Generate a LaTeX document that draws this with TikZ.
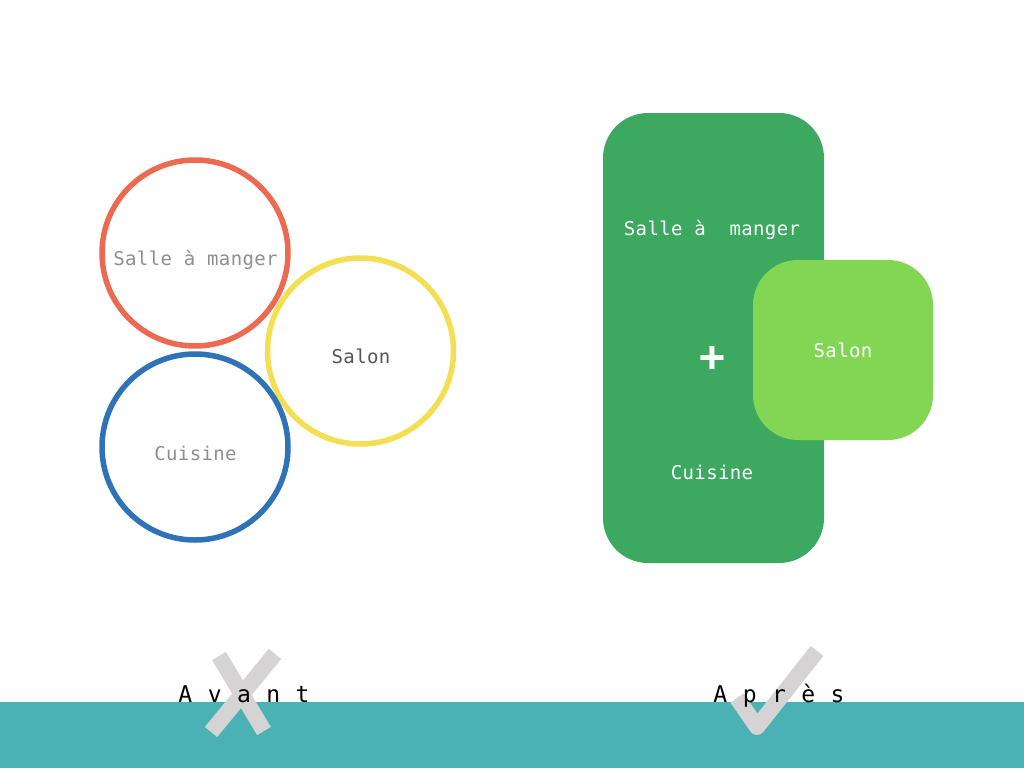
\documentclass[tikz,border=0pt]{standalone}
\usepackage{fontspec}
\newfontfamily\monof[LetterSpace=2]{DejaVu Sans Mono}
\newfontfamily\monobig[LetterSpace=7]{DejaVu Sans Mono}
\newfontfamily\plusf{DejaVu Sans Mono Bold}
\definecolor{cred}{HTML}{EC6A52}
\definecolor{cyellow}{HTML}{F4DF53}
\definecolor{cblue}{HTML}{2E73B8}
\definecolor{cdgreen}{HTML}{3DA960}
\definecolor{clgreen}{HTML}{83D653}
\definecolor{cteal}{HTML}{4AB1B5}
\definecolor{cmark}{HTML}{D5D3D4}
\definecolor{cgraytxt}{HTML}{8F8F8F}
\definecolor{cdarktxt}{HTML}{555555}
\tikzset{
  ring/.style={circle, draw, line width=5.5pt, minimum size=186pt, inner sep=0pt},
  lbl/.style={anchor=base, inner sep=0pt, font=\monof\fontsize{19}{22}\selectfont},
  biglbl/.style={anchor=base, inner sep=0pt, font=\monobig\fontsize{23}{26}\selectfont, text=black},
  markline/.style={cmark, line width=16pt, line cap=butt},
}
\begin{document}
\begin{tikzpicture}[x=1pt,y=-1pt]
\useasboundingbox (0,0) rectangle (1024,768);
\fill[white] (0,0) rectangle (1024,768);
% bottom band
\fill[cteal] (0,702) rectangle (1024,768);
% left circles
\node[ring, draw=cred] (red) at (195,253) {};
\node[ring, draw=cyellow] (yellow) at (360.5,351) {};
\node[ring, draw=cblue] (blue) at (195,447) {};
\node[lbl, text=cgraytxt] (tsam) at (195.5,265) {Salle à manger};
\node[lbl, text=cdarktxt] (tsal) at (361,363) {Salon};
\node[lbl, text=cgraytxt] (tcui) at (195.5,460) {Cuisine};
% right shapes
\fill[cdgreen, rounded corners=45pt] (603,113) rectangle (824,563);
\fill[clgreen, rounded corners=45pt] (753,260) rectangle (933,440);
\node[lbl, text=white] (rsam) at (712,235) {Salle à\ \ manger};
\node[inner sep=0pt, text=white, font=\plusf\fontsize{43}{46}\selectfont] (plus) at (712.5,359) {+};
\node[lbl, text=white] (rsal) at (843,357) {Salon};
\node[lbl, text=white] (rcui) at (712,479) {Cuisine};
% marks
\coordinate (x1a) at (219,656); \coordinate (x1b) at (264,731);
\coordinate (x2a) at (275,654); \coordinate (x2b) at (211,732);
\draw[markline] (x1a) -- (x1b);
\draw[markline] (x2a) -- (x2b);
\coordinate (c1) at (737,698); \coordinate (c2) at (757,727); \coordinate (c3) at (817,651);
\draw[markline, line join=round] (c1) -- (c2) -- (c3);
% labels
\node[biglbl] (avant) at (244,702) {A v a n t};
\node[biglbl] (apres) at (779,702) {A p r è s};
\end{tikzpicture}
\end{document}
